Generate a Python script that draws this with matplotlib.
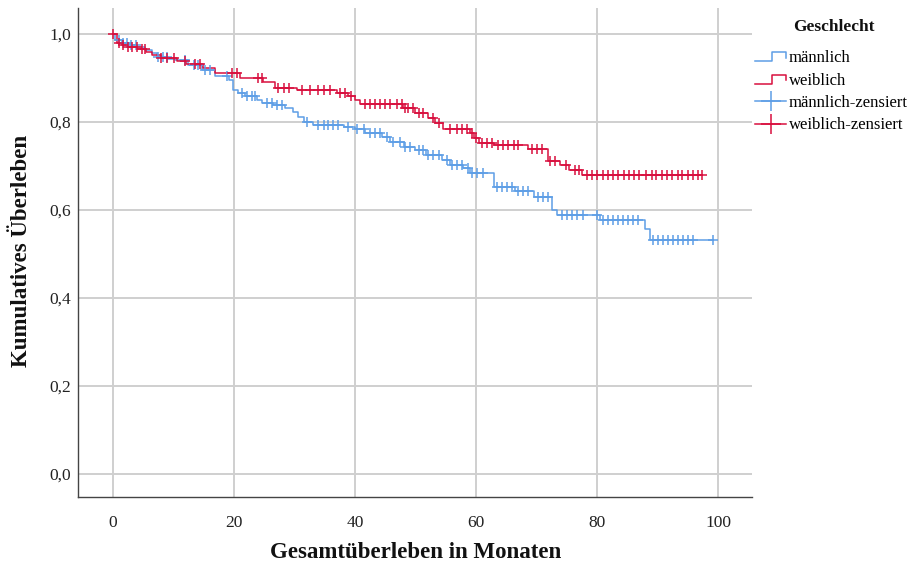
import numpy as np
import matplotlib
matplotlib.use("Agg")
import matplotlib.pyplot as plt
from matplotlib.lines import Line2D
from matplotlib.legend_handler import HandlerBase

plt.rcParams["font.family"] = ["Liberation Serif", "DejaVu Serif"]

# Kaplan-Meier step functions: event times (months) and survival after each step
male_event_t = [0.3, 1.5, 2.8, 4.0, 5.3, 6.4, 7.2, 9.0, 10.2, 12.4, 14.7, 16.9,
                19.1, 19.9, 20.7, 21.8, 23.8, 24.6, 26.5, 28.4, 29.8, 30.6, 31.5,
                33.1, 38.1, 40.0, 41.7, 44.4, 45.8, 48.0, 49.9, 51.8, 54.3, 55.7,
                57.9, 59.0, 62.9, 66.4, 69.6, 72.5, 73.3, 80.5, 87.9, 88.8]
male_surv = [0.986, 0.980, 0.975, 0.970, 0.964, 0.956, 0.948, 0.944, 0.940, 0.930,
             0.918, 0.905, 0.895, 0.873, 0.865, 0.858, 0.851, 0.844, 0.839, 0.831,
             0.823, 0.812, 0.801, 0.793, 0.789, 0.783, 0.774, 0.765, 0.755, 0.744,
             0.736, 0.725, 0.714, 0.702, 0.695, 0.683, 0.653, 0.643, 0.630, 0.600,
             0.589, 0.577, 0.557, 0.532]
male_censored = [0.9, 1.7, 2.3, 3.0, 3.8, 7.5, 8.3, 8.9, 11.9, 13.3, 14.1, 15.2, 16.0,
                 18.8, 21.3, 22.1, 22.9, 23.5, 25.4, 26.2, 27.1, 27.9, 32.0, 33.9,
                 34.8, 35.6, 36.4, 37.2, 38.9, 40.3, 41.4, 42.5, 43.3, 44.1, 45.2,
                 46.3, 47.4, 48.3, 49.1, 50.5, 51.3, 52.1, 52.9, 53.8, 55.2, 56.0,
                 56.8, 57.6, 58.7, 59.3, 60.1, 61.1, 63.4, 64.2, 65.1, 65.9, 67.0,
                 67.8, 68.6, 70.2, 71.1, 71.9, 74.2, 75.0, 75.8, 76.6, 77.7, 80.0,
                 81.0, 81.8, 82.6, 83.5, 84.3, 85.1, 85.9, 86.8, 89.3, 90.1, 90.9,
                 91.7, 92.6, 93.4, 94.2, 95.0, 95.9, 99.1]

female_event_t = [0.6, 1.5, 2.5, 4.0, 5.5, 6.5, 8.0, 10.5, 12.0, 14.8, 16.9, 21.0,
                  24.8, 26.8, 30.4, 37.0, 38.9, 40.0, 40.8, 47.9, 49.9, 52.1, 53.2,
                  54.6, 59.0, 59.6, 60.4, 62.9, 68.6, 71.8, 73.9, 75.3, 77.5]
female_surv = [0.980, 0.975, 0.970, 0.966, 0.960, 0.952, 0.945, 0.938, 0.932,
               0.922, 0.911, 0.901, 0.892, 0.877, 0.873, 0.866, 0.858, 0.849,
               0.841, 0.832, 0.821, 0.809, 0.797, 0.783, 0.774, 0.763, 0.753,
               0.748, 0.738, 0.712, 0.702, 0.692, 0.680]
female_censored = [0.0, 0.9, 1.7, 2.5, 3.1, 3.9, 4.7, 5.3, 8.0, 8.9, 10.0, 11.9, 13.6,
                   14.4, 19.6, 20.4, 24.0, 24.6, 27.3, 28.2, 29.0, 31.2, 32.6, 33.8,
                   34.8, 35.8, 37.5, 38.3, 39.3, 41.7, 42.5, 43.3, 44.1, 45.0, 45.8,
                   46.9, 47.7, 48.3, 48.8, 49.6, 50.5, 51.3, 52.8, 53.9, 55.7, 56.8,
                   57.6, 58.5, 59.3, 60.0, 60.9, 61.8, 62.6, 63.7, 64.5, 65.3, 66.2,
                   67.0, 69.2, 70.0, 70.9, 72.2, 73.1, 74.8, 76.3, 77.0, 78.3, 79.1,
                   80.0, 80.9, 81.8, 82.6, 83.5, 84.4, 85.3, 86.1, 87.0, 88.0, 89.0,
                   89.8, 90.7, 91.6, 92.4, 93.3, 94.1, 95.0, 95.8, 96.6, 97.4]

group_labels = ["männlich", "weiblich"]
censor_labels = ["männlich-zensiert", "weiblich-zensiert"]
x_ticks = [0, 20, 40, 60, 80, 100]
y_ticks = [0.0, 0.2, 0.4, 0.6, 0.8, 1.0]
y_ticklabels = ["0,0", "0,2", "0,4", "0,6", "0,8", "1,0"]

BLUE = "#5e9ee6"
RED = "#d8103e"


def km_curve(event_t, surv, censored):
    t_end = max(max(event_t), max(censored))
    t = np.concatenate([[0.0], event_t, [t_end]])
    s = np.concatenate([[1.0], surv, [surv[-1]]])
    idx = np.searchsorted(np.asarray(event_t), np.asarray(censored), side="right")
    s_c = np.concatenate([[1.0], surv])[idx]
    return t, s, np.asarray(censored), s_c


class StepHandler(HandlerBase):
    def create_artists(self, legend, orig_handle, xdescent, ydescent,
                       width, height, fontsize, trans):
        x0, y0 = -xdescent, -ydescent
        xs = [x0, x0 + 0.55 * width, x0 + 0.55 * width, x0 + width, x0 + width]
        ys = [y0 + 0.1 * height, y0 + 0.1 * height, y0 + 0.85 * height,
              y0 + 0.85 * height, y0 + 0.4 * height]
        ln = Line2D(xs, ys, color=orig_handle.get_color(),
                    lw=orig_handle.get_linewidth())
        ln.set_transform(trans)
        return [ln]


fig = plt.figure(figsize=(9.15, 5.70), dpi=100)
ax = fig.add_axes([78 / 915, 1 - 497 / 570, (752 - 78) / 915, (497 - 8) / 570])

step_handles = []
cens_handles = []
for (ev, sv, cz, col, lab, clab) in [
        (male_event_t, male_surv, male_censored, BLUE, group_labels[0], censor_labels[0]),
        (female_event_t, female_surv, female_censored, RED, group_labels[1], censor_labels[1])]:
    t, s, tc, sc = km_curve(ev, sv, cz)
    ax.step(t, s, where="post", color=col, lw=1.1, zorder=3)
    ax.plot(tc, sc, ls="none", marker="+", ms=7.5, mew=1.1, color=col, zorder=4)
    step_handles.append(Line2D([], [], color=col, lw=1.1, label=lab))
    cens_handles.append(Line2D([0], [0], color=col, lw=1.1, marker="+", ms=15,
                               mew=1.1, label=clab))

ax.set_xlim(-5.8, 105.6)
ax.set_ylim(-0.052, 1.059)
ax.set_xticks(x_ticks)
ax.set_yticks(y_ticks)
ax.set_yticklabels(y_ticklabels)
ax.tick_params(axis="both", length=0, labelsize=12.5, colors="#222222")
ax.tick_params(axis="x", pad=13)
ax.tick_params(axis="y", pad=5)
ax.grid(True, color="#cfcfcf", lw=1.4)
ax.set_axisbelow(True)
for side in ["top", "right"]:
    ax.spines[side].set_visible(False)
for side in ["left", "bottom"]:
    ax.spines[side].set_color("#444444")
    ax.spines[side].set_linewidth(1.0)

fig.text(416 / 915, 1 - 553 / 570, "Gesamtüberleben in Monaten", ha="center",
         va="center", fontsize=16.5, fontweight="bold", color="#111111")
fig.text(22 / 915, 1 - 251 / 570, "Kumulatives Überleben", ha="center",
         va="center", rotation=90, fontsize=16.5, fontweight="bold", color="#111111")

fig.text(834 / 915, 1 - 27 / 570, "Geschlecht", ha="center", va="center",
         fontsize=12.5, fontweight="bold", color="#111111")

handles = step_handles + cens_handles
hmap = {h: StepHandler() for h in step_handles}
fig.legend(handles=handles, labels=[h.get_label() for h in handles],
           handler_map=hmap, loc="upper left",
           bbox_to_anchor=(752 / 915, 1 - 47 / 570), frameon=False, fontsize=12,
           handlelength=1.85, handletextpad=0.15, labelspacing=0.38,
           borderaxespad=0, borderpad=0.2)

fig.savefig("out.png", dpi=100)
